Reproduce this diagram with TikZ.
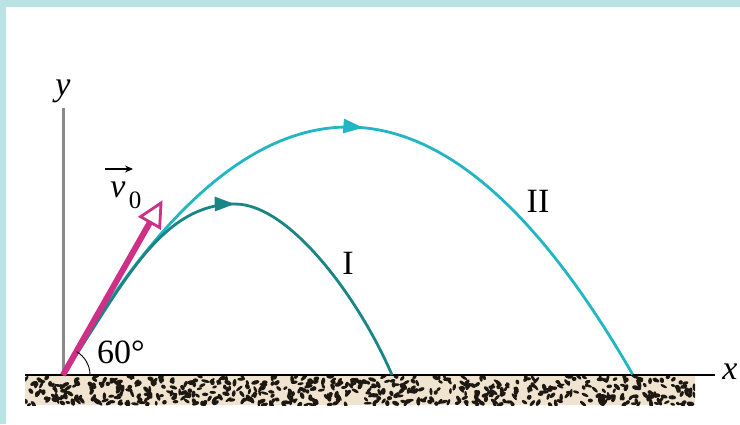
\documentclass[tikz,border=0pt]{standalone}
\usepackage{fontspec}
\setmainfont{Liberation Serif}
\usetikzlibrary{arrows.meta,decorations.markings,calc}
\definecolor{frame}{HTML}{B9E2E5}
\definecolor{trajone}{HTML}{1A8585}
\definecolor{trajtwo}{HTML}{22B6C3}
\definecolor{vecmag}{HTML}{CF2F86}
\definecolor{sand}{HTML}{F0E3D0}
\definecolor{speckcol}{HTML}{1E1812}
\definecolor{axisgray}{HTML}{8A8A8A}
\begin{document}
\begin{tikzpicture}[x=1pt,y=-1pt,
  font=\fontsize{34}{40}\selectfont,
  lbl/.style={inner sep=0pt},
  yaxisline/.style={axisgray, line width=3pt},
  xaxisline/.style={black, line width=2pt},
  pathone/.style={trajone, line width=2.8pt},
  pathtwo/.style={trajtwo, line width=2.8pt},
  vecstem/.style={vecmag, line width=6pt},
  vechead/.style={vecmag, fill=white, line width=2.8pt, line join=miter},
  anglearc/.style={black, line width=0.9pt},
  speck/.style={fill=speckcol}
]
\useasboundingbox (0,0) rectangle (740,424);
\fill[white] (0,0) rectangle (740,424);
\fill[frame] (0,0) rectangle (740,7);
\fill[frame] (0,0) rectangle (6,424);

% key points
\coordinate (O) at (63,375);
\coordinate (Yt) at (63,108);
\coordinate (Xl) at (25,375);
\coordinate (Xr) at (715,375);
\coordinate (P1) at (235,204);
\coordinate (L1) at (392,375);
\coordinate (T) at (161,203);

% ground
\fill[sand] (25,375) rectangle (695,405);
\begin{scope}
  \clip (25,376) rectangle (695,405);
  \pgfmathsetseed{11}
  \foreach \i in {1,...,560}{
    \pgfmathsetmacro\px{25+670*rnd}
    \pgfmathsetmacro\py{376+29*rnd}
    \pgfmathsetmacro\pa{360*rnd}
    \pgfmathsetmacro\pr{2.2+2.2*rnd}
    \pgfmathsetmacro\pq{1.3+1*rnd}
    \fill[speck, shift={(\px,\py)}, rotate=\pa] (0,0) ellipse [x radius=\pr, y radius=\pq];
  }
\end{scope}

% axes
\draw[yaxisline] (O) -- (Yt);
\draw[xaxisline] (Xl) -- (Xr);

% trajectory II (parabola)
\draw[pathtwo, postaction={decorate},
  decoration={markings, mark=at position 0.52 with {\arrow[trajtwo]{Triangle[length=20pt,width=14pt]}}}]
  plot[domain=0:1, samples=80] ({63+570*\x},{375-992*\x*(1-\x)});

% trajectory I
\draw[pathone, postaction={decorate},
  decoration={markings, mark=at position 0.999 with {\arrow[trajone]{Triangle[length=20pt,width=14pt]}}}]
  (O) .. controls (123,285) and (160,204) .. (P1);
\draw[pathone] (P1) .. controls (290,204) and (360,300) .. (L1);

% initial velocity vector
\coordinate (B) at ($(T)!22pt!(O)$);
\coordinate (C1) at ($(B)!11pt!90:(T)$);
\coordinate (C2) at ($(B)!11pt!-90:(T)$);
\draw[vecstem] (O) -- (B);
\draw[vechead] (T) -- (C1) -- (C2) -- cycle;

% angle
\draw[anglearc] ($(O)+(27,0)$) arc[start angle=0, end angle=-60, radius=27];

% labels
\node[lbl] (ylab) at (63,91) {\itshape y};
\node[lbl] (xlab) at (730,372) {\itshape x};
\node[lbl] (labI) at (348,263) {I};
\node[lbl] (labII) at (538,201) {II};
\node[lbl] (ang) at (121,352) {60°};
\node[lbl] (vlab) at (118,190) {\itshape v};
\node[lbl, font=\fontsize{25}{30}\selectfont] (vsub) at (135,200) {0};
\coordinate (va) at (105,169);
\coordinate (vb) at (133,169);
\draw[black, line width=1.1pt, -{Stealth[length=8pt,width=7pt]}] (va) -- (vb);
\end{tikzpicture}
\end{document}
